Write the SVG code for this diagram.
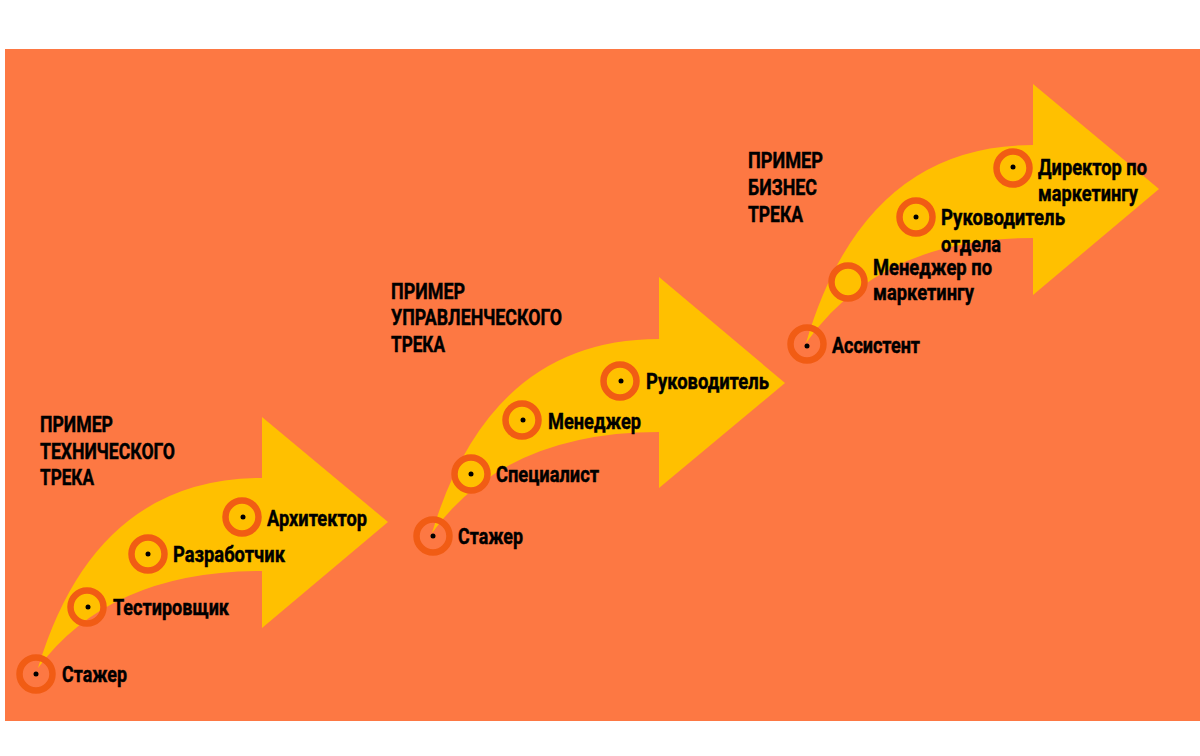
<svg xmlns="http://www.w3.org/2000/svg" width="1200" height="756" viewBox="0 0 1200 756">
<style>
.arrow{fill:#FFC000}
.ring{fill:none;stroke:#F15C14;stroke-width:6.5}
.dot{fill:#000}
text{font-family:Roboto,"Liberation Sans",sans-serif;font-weight:bold;font-size:22px;fill:#000;stroke:#000;stroke-width:0.45}
</style>
<rect x="0" y="0" width="1200" height="756" fill="#FFFFFF"/>
<rect x="5" y="49" width="1195" height="672" fill="#FD7843"/>
<g id="connectors">
<path class="arrow" d="M38,668 Q95,478 262,478 L262,417 L388,522 L262,628 L262,571 Q110,571 38,668 Z"/>
<path class="arrow" d="M432,533 Q490,339 659,339 L659,277 L785,383 L659,488 L659,432 Q505,432 432,533 Z"/>
<path class="arrow" d="M806,343 Q864,145 1033,145 L1033,84 L1159,189 L1033,295 L1033,238 Q880,238 806,343 Z"/>
</g>
<g id="title-tech">
<text x="40" y="432" textLength="73" lengthAdjust="spacingAndGlyphs">ПРИМЕР</text>
<text x="40" y="459" textLength="135" lengthAdjust="spacingAndGlyphs">ТЕХНИЧЕСКОГО</text>
<text x="40" y="485" textLength="54" lengthAdjust="spacingAndGlyphs">ТРЕКА</text>
</g>
<g id="t1-intern">
<circle class="ring" cx="36" cy="674" r="16.5"/><circle class="dot" cx="36" cy="674" r="2.5"/>
<text x="62" y="682" textLength="65" lengthAdjust="spacingAndGlyphs">Стажер</text>
</g>
<g id="t1-tester">
<circle class="ring" cx="87" cy="607" r="16.5"/><circle class="dot" cx="88" cy="607" r="2.5"/>
<text x="113" y="615" textLength="116" lengthAdjust="spacingAndGlyphs">Тестировщик</text>
</g>
<g id="t1-dev">
<circle class="ring" cx="148" cy="554" r="16.5"/><circle class="dot" cx="148" cy="554" r="2.5"/>
<text x="173" y="562" textLength="112" lengthAdjust="spacingAndGlyphs">Разработчик</text>
</g>
<g id="t1-arch">
<circle class="ring" cx="242" cy="517" r="16.5"/><circle class="dot" cx="243" cy="517" r="2.5"/>
<text x="267" y="526" textLength="100" lengthAdjust="spacingAndGlyphs">Архитектор</text>
</g>
<g id="title-mgmt">
<text x="391" y="299" textLength="74" lengthAdjust="spacingAndGlyphs">ПРИМЕР</text>
<text x="391" y="325" textLength="171" lengthAdjust="spacingAndGlyphs">УПРАВЛЕНЧЕСКОГО</text>
<text x="391" y="352" textLength="54" lengthAdjust="spacingAndGlyphs">ТРЕКА</text>
</g>
<g id="t2-intern">
<circle class="ring" cx="433" cy="536" r="16.5"/><circle class="dot" cx="433" cy="536" r="2.5"/>
<text x="458" y="544" textLength="65" lengthAdjust="spacingAndGlyphs">Стажер</text>
</g>
<g id="t2-spec">
<circle class="ring" cx="471" cy="474" r="16.5"/><circle class="dot" cx="471" cy="474" r="2.5"/>
<text x="496" y="482" textLength="103" lengthAdjust="spacingAndGlyphs">Специалист</text>
</g>
<g id="t2-manager">
<circle class="ring" cx="522" cy="420" r="16.5"/><circle class="dot" cx="523" cy="420" r="2.5"/>
<text x="548" y="429" textLength="93" lengthAdjust="spacingAndGlyphs">Менеджер</text>
</g>
<g id="t2-head">
<circle class="ring" cx="620" cy="381" r="16.5"/><circle class="dot" cx="621" cy="381" r="2.5"/>
<text x="646" y="389" textLength="123" lengthAdjust="spacingAndGlyphs">Руководитель</text>
</g>
<g id="title-biz">
<text x="748" y="168" textLength="75" lengthAdjust="spacingAndGlyphs">ПРИМЕР</text>
<text x="748" y="195" textLength="69" lengthAdjust="spacingAndGlyphs">БИЗНЕС</text>
<text x="748" y="222" textLength="55" lengthAdjust="spacingAndGlyphs">ТРЕКА</text>
</g>
<g id="t3-assist">
<circle class="ring" cx="807" cy="344" r="16.5"/><circle class="dot" cx="807" cy="346" r="2.5"/>
<text x="832" y="353" textLength="88" lengthAdjust="spacingAndGlyphs">Ассистент</text>
</g>
<g id="t3-mktmgr">
<circle class="dot" cx="848" cy="268" r="2.5"/>
<circle class="ring" cx="848" cy="282" r="16.5" style="fill:#FFC000"/>
<text x="873" y="275" textLength="119" lengthAdjust="spacingAndGlyphs">Менеджер по</text>
<text x="873" y="300" textLength="101" lengthAdjust="spacingAndGlyphs">маркетингу</text>
</g>
<g id="t3-depthead">
<circle class="ring" cx="916" cy="217" r="16.5"/><circle class="dot" cx="916" cy="217" r="2.5"/>
<text x="941" y="225" textLength="124" lengthAdjust="spacingAndGlyphs">Руководитель</text>
<text x="941" y="252" textLength="60" lengthAdjust="spacingAndGlyphs">отдела</text>
</g>
<g id="t3-director">
<circle class="ring" cx="1013" cy="168" r="16.5"/><circle class="dot" cx="1013" cy="167" r="2.5"/>
<text x="1038" y="175" textLength="109" lengthAdjust="spacingAndGlyphs">Директор по</text>
<text x="1038" y="201" textLength="100" lengthAdjust="spacingAndGlyphs">маркетингу</text>
</g>
</svg>
